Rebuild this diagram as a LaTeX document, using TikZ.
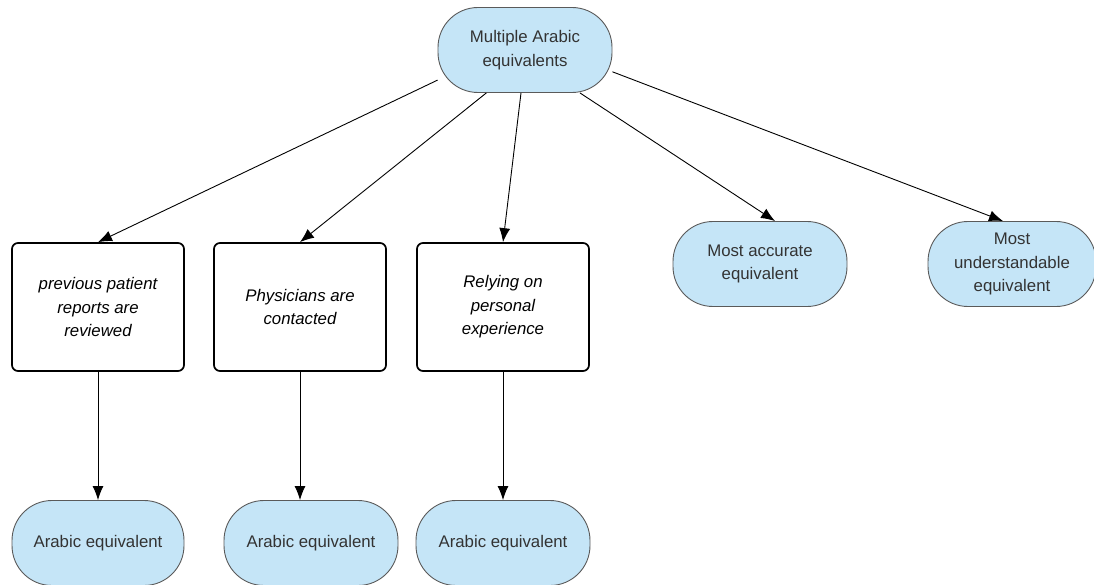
\documentclass[tikz,border=0pt]{standalone}
\usepackage{fontspec}
\setmainfont{Liberation Sans}
\usetikzlibrary{positioning,arrows.meta}
\definecolor{termfill}{RGB}{197,229,247}
\definecolor{termline}{RGB}{90,90,90}
\definecolor{textgrey}{RGB}{51,51,51}

\begin{document}
\begin{tikzpicture}[
    x=1pt, y=-1pt,
    every node/.style={font=\fontsize{16.8}{23.5}\selectfont, text=textgrey, align=center},
    term/.style={draw=termline, fill=termfill, line width=0.9pt, rounded corners=40pt, minimum width=174pt, minimum height=85pt},
    box/.style={draw=black, line width=1.7pt, rounded corners=6pt, minimum width=172pt, minimum height=128pt, font=\fontsize{16.8}{23.5}\selectfont\itshape, text=black},
    arr/.style={-{Latex[length=14pt, width=11pt]}, line width=0.9pt}
]
\useasboundingbox (0,0) rectangle (1094,585);
\clip (0,0) rectangle (1094,585);

\node[term] (multi) at (525,50) {Multiple Arabic\\equivalents};

\node[box] (reports) at (98,307) {previous patient\\reports are\\reviewed};
\node[box] (phys) at (300,307) {Physicians are\\contacted};
\node[box] (exper) at (503,307) {Relying on\\personal\\experience};
\node[term] (accurate) at (760,264) {Most accurate\\equivalent};
\node[term, minimum width=168pt] (underst) at (1012,264) {Most\\understandable\\equivalent};

\node[term, minimum width=172pt] (eqa) at (98,543) {Arabic equivalent};
\node[term] (eqb) at (311,543) {Arabic equivalent};
\node[term] (eqc) at (503,543) {Arabic equivalent};

\draw[arr] (multi.199) -- (reports.north);
\draw[arr] (multi.228) -- (phys.north);
\draw[arr] ([xshift=-4pt]multi.south) -- (exper.north);
\draw[arr] (multi.322) -- ([xshift=15pt]accurate.north);
\draw[arr] (multi.346) -- ([xshift=-9pt]underst.north);

\draw[arr] (reports.south) -- (reports.south |- eqa.north);
\draw[arr] (phys.south) -- (phys.south |- eqb.north);
\draw[arr] (exper.south) -- (exper.south |- eqc.north);
\end{tikzpicture}
\end{document}
